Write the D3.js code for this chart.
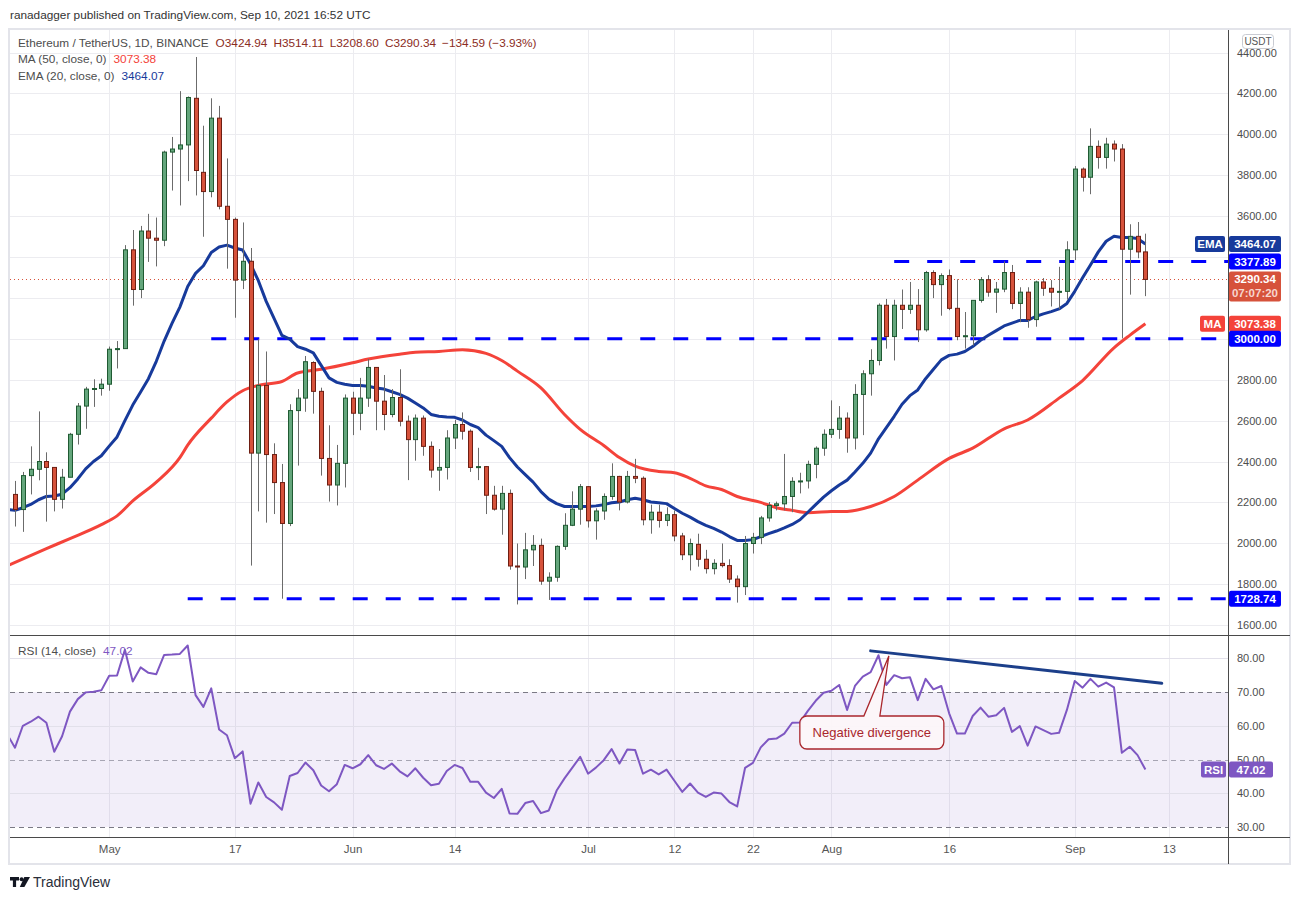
<!DOCTYPE html>
<html>
<head>
<meta charset="utf-8">
<script src="https://cdn.jsdelivr.net/npm/d3@7/dist/d3.min.js"></script>
<style>
html,body{margin:0;padding:0;background:#fff;}
svg text{font-family:"Liberation Sans",Arial,sans-serif;}
</style>
</head>
<body>
<svg id="chart" width="1298" height="900"></svg>
<script>
// ================= DATA =================
const startDate = "2021-04-18";
const opens = [2240,
2239,2165,2331,2362,2400,2371,2215,2323,2533,2671,
2754,2757,2778,2949,2952,3435,3241,3527,3492,3482,
3913,3928,3948,4176,3814,3720,4079,3648,3584,3287,
3379,2441,2772,2434,2297,2097,2649,2710,2884,2743,
2415,2285,2391,2710,2636,2710,2860,2695,2630,2713,
2597,2507,2612,2474,2358,2371,2515,2581,2548,2371,
2375,2235,2167,2244,1889,1884,1968,1990,1815,1834,
1985,2088,2167,2277,2110,2158,2229,2327,2202,2327,
2318,2115,2152,2112,2140,2036,1944,1995,1922,1876,
1902,1891,1825,1788,1999,2029,2124,2185,2193,2229,
2303,2305,2386,2465,2533,2557,2612,2515,2728,2829,
2894,3164,3011,3164,3144,3164,3044,3324,3265,3309,
3149,3011,3015,3188,3289,3228,3243,3324,3173,3228,
3094,3278,3247,3228,3232,3435,3830,3790,3941,3887,
3952,3928,3438,3501,3424.94];
const highs = [2250,
2305,2349,2474,2645,2445,2371,2364,2540,2686,2765,
2802,2805,2962,2989,3458,3532,3552,3611,3593,3920,
3987,4211,4185,4378,4042,4176,4139,3882,3593,3569,
3444,2998,2938,2489,2388,2680,2754,2916,2890,2761,
2577,2481,2728,2741,2809,2901,2862,2823,2754,2851,
2625,2630,2625,2498,2461,2553,2603,2640,2557,2467,
2378,2281,2281,2263,1999,2051,2040,2023,1858,1990,
2147,2254,2290,2280,2171,2244,2391,2330,2354,2413,
2327,2189,2189,2176,2161,2051,2023,2047,1968,1922,
1999,1922,1843,2036,2051,2134,2202,2204,2437,2323,
2345,2404,2474,2557,2699,2671,2640,2778,2846,2949,
3173,3195,3191,3241,3278,3243,3332,3335,3320,3339,
3291,3131,3188,3302,3311,3278,3379,3361,3252,3252,
3284,3297,3287,3352,3477,3845,3838,4029,3970,3983,
3970,3952,3560,3571,3514.11];
const lows = [1960,
2082,2056,2239,2308,2106,2156,2170,2323,2483,2560,
2667,2722,2746,2855,2952,3162,3199,3376,3354,3453,
3725,3652,3771,3701,3499,3692,3633,3343,3103,3243,
1891,2156,2101,2143,1729,2084,2380,2643,2634,2331,
2204,2185,2273,2529,2553,2667,2553,2553,2616,2572,
2309,2404,2428,2321,2257,2312,2461,2507,2349,2309,
2143,2160,2042,1871,1701,1825,1889,1797,1723,1812,
1968,2084,2091,2077,2018,2115,2213,2161,2195,2294,
2088,2047,2077,2084,2010,1918,1867,1886,1852,1848,
1882,1806,1710,1747,1950,1996,2106,2161,2161,2152,
2244,2268,2318,2428,2515,2511,2443,2459,2529,2722,
2870,2952,2894,3048,3122,2984,3035,3199,3113,3140,
2993,2952,2967,3177,3206,3127,3228,3145,3081,3054,
3059,3210,3158,3145,3192,3385,3720,3707,3832,3832,
3867,3002,3216,3394,3208.60];
const closes = [2239,
2165,2331,2362,2400,2371,2215,2323,2533,2671,2754,
2757,2778,2949,2952,3435,3241,3527,3492,3482,3913,
3928,3948,4180,3823,3720,4079,3648,3584,3287,3379,
2441,2772,2434,2297,2097,2649,2710,2888,2743,2415,
2285,2391,2710,2636,2710,2860,2695,2630,2713,2597,
2507,2612,2474,2358,2371,2515,2581,2548,2371,2375,
2235,2167,2244,1889,1884,1968,1990,1815,1834,1985,
2088,2167,2277,2110,2158,2229,2327,2202,2327,2318,
2115,2152,2112,2140,2036,1944,1999,1922,1876,1902,
1891,1825,1788,1999,2029,2124,2185,2193,2229,2303,
2305,2386,2465,2533,2557,2612,2515,2728,2829,2894,
3164,3011,3164,3144,3164,3044,3324,3265,3309,3149,
3011,3015,3188,3289,3228,3243,3324,3173,3228,3094,
3278,3247,3228,3232,3435,3830,3790,3941,3887,3952,
3928,3438,3501,3425,3290.34];
// EMA(20) read per candle
const ema20 = [2165,
2161,2174,2190,2213,2229,2231,2240,2272,2315,2364,
2400,2428,2475,2520,2600,2676,2740,2805,2890,2989,
3075,3155,3256,3320,3357,3422,3449,3458,3444,3434,
3366,3284,3183,3100,3017,2998,2962,2949,2931,2870,
2809,2787,2778,2772,2772,2768,2759,2754,2741,2728,
2710,2686,2662,2630,2621,2618,2616,2603,2581,2566,
2529,2502,2474,2419,2373,2336,2299,2253,2216,2194,
2180,2180,2180,2180,2183,2189,2198,2202,2213,2220,
2213,2202,2198,2194,2170,2147,2128,2106,2088,2073,
2055,2033,2014,2014,2018,2033,2047,2060,2075,2092,
2115,2152,2189,2226,2257,2285,2309,2349,2391,2441,
2511,2566,2621,2680,2722,2750,2805,2851,2897,2919,
2925,2938,2962,2993,3017,3040,3063,3077,3090,3090,
3109,3122,3133,3146,3173,3232,3298,3361,3425,3477,
3501,3495,3495,3490,3464.07];
// MA(50) read at sample dates
const maDates = ["2021-04-18","2021-04-23","2021-04-26","2021-04-30","2021-05-02","2021-05-04","2021-05-07","2021-05-10","2021-05-11","2021-05-14","2021-05-16","2021-05-18","2021-05-20","2021-05-23","2021-05-25","2021-05-28","2021-06-01","2021-06-03","2021-06-07","2021-06-09","2021-06-12","2021-06-15","2021-06-18","2021-06-20","2021-06-22","2021-06-25","2021-06-28","2021-06-30","2021-07-03","2021-07-05","2021-07-07","2021-07-10","2021-07-12","2021-07-14","2021-07-16","2021-07-18","2021-07-20","2021-07-23","2021-07-25","2021-07-27","2021-07-29","2021-08-01","2021-08-03","2021-08-06","2021-08-09","2021-08-12","2021-08-16","2021-08-19","2021-08-23","2021-08-26","2021-08-30","2021-09-02","2021-09-06","2021-09-08","2021-09-10"];
const maValues = [1890,1974,2023,2091,2134,2207,2299,2419,2480,2612,2691,2746,2772,2791,2833,2851,2883,2901,2925,2934,2938,2947,2929,2894,2842,2760,2630,2557,2478,2419,2377,2351,2345,2318,2281,2263,2229,2200,2174,2161,2150,2155,2156,2180,2229,2309,2415,2465,2560,2603,2710,2796,2956,3017,3073.38];
// RSI(14) read per candle
const rsi14 = [57.5,
53.5,60.0,61.2,62.7,60.9,52.3,56.9,64.2,67.9,69.9,
70.1,70.5,74.8,74.9,82.5,73.1,77.3,75.7,75.3,81.0,
81.1,81.3,83.8,69.1,65.6,71.1,58.9,57.2,50.4,52.4,
36.9,43.2,38.9,37.3,35.1,45.1,46.0,49.1,46.8,42.3,
40.6,42.7,48.4,47.4,48.6,51.3,48.3,47.2,48.8,46.5,
45.0,47.4,44.6,42.4,42.8,46.6,48.4,47.5,43.4,43.4,
40.2,38.6,41.3,34.0,33.9,37.1,37.7,34.1,34.9,40.8,
44.4,47.6,50.8,45.8,47.6,49.8,53.1,48.8,53.0,52.8,
45.8,47.0,45.6,47.0,43.7,40.4,42.9,40.2,38.9,40.2,
39.9,37.4,36.1,47.5,49.0,53.6,56.0,56.2,57.7,60.9,
61.0,64.4,67.4,69.8,70.4,72.1,64.7,71.8,74.6,75.9,
80.9,72.1,75.0,74.1,74.4,67.6,73.9,70.8,71.8,63.7,
57.7,57.7,62.9,65.4,62.7,63.1,65.3,58.2,59.9,54.1,
59.8,58.7,57.6,57.9,64.7,73.3,71.3,73.9,71.6,72.8,
71.4,52.0,53.8,51.3,47.02];
const levelValues = [3377.89, 3000.00, 1728.74];
const levelStarts = ["2021-08-09", "2021-05-14", "2021-05-11"];
const trendDates = ["2021-08-06", "2021-09-12T02:00"];
const trendValues = [82.2, 72.6];
const noteDate = "2021-08-08", noteValue = 80.7, noteText = "Negative divergence";
const priceTicks = [1600,1800,2000,2200,2400,2600,2800,3000,3200,3400,3600,3800,4000,4200,4400];
const rsiTicks = [30,40,50,60,70,80];
const rsiGrid = [40,60,80];
const rsiDashed = [30,50,70];
const dateTicks = ["2021-05-01","2021-05-17","2021-06-01","2021-06-14","2021-07-01","2021-07-12","2021-07-22","2021-08-01","2021-08-16","2021-09-01","2021-09-13"];
const dateTickLabels = ["May","17","Jun","14","Jul","12","22","Aug","16","Sep","13"];
const lastInfo = {open:3424.94, high:3514.11, low:3208.60, close:3290.34, change:-134.59, pct:-3.93, ma:3073.38, ema:3464.07, rsi:47.02, countdown:"07:07:20"};

// ================= LAYOUT =================
const W = 1298, H = 900;
const L = 10, R = 1228, PT = 30, PB = 635, RB = 837, FB = 864, FR = 1290;
const FS = 11.8;
const parse = d => new Date(d.length > 10 ? d + ":00Z" : d + "T00:00:00Z");
const dates = closes.map((_, i) => d3.utcDay.offset(parse(startDate), i));
const candles = dates.map((d, i) => ({d, o: opens[i], h: highs[i], l: lows[i], c: closes[i]}));

const x = d3.scaleUtc().domain([parse("2021-04-19"), parse("2021-09-10")]).range([15, 1145.4]);
const y = d3.scaleLinear().domain([1600, 4200]).range([625.1, 93.4]);
const yr = d3.scaleLinear().domain([30, 80]).range([827, 658.3]);

const UP = "#64a67c", UPB = "#1f5a32", DN = "#d6523b", DNB = "#6e1e12";
const EMAC = "#173a9b", MAC = "#f4433a", LVL = "#0000ff", RSIC = "#7e57c2";

const svg = d3.select("#chart");
svg.append("rect").attr("width", W).attr("height", H).attr("fill", "#fff");
const defs = svg.append("defs");
defs.append("clipPath").attr("id", "cp").append("rect").attr("x", L).attr("y", PT).attr("width", R - L).attr("height", PB - PT);
defs.append("clipPath").attr("id", "cr").append("rect").attr("x", L).attr("y", PB).attr("width", R - L).attr("height", RB - PB);

// ----- grids -----
const grid = svg.append("g");
grid.selectAll(".hg").data(priceTicks).join("line")
  .attr("x1", L).attr("x2", R).attr("y1", d => Math.round(y(d)) + 0.5).attr("y2", d => Math.round(y(d)) + 0.5)
  .attr("stroke", "#ececf0");
grid.selectAll(".vg").data(dateTicks).join("line")
  .attr("x1", d => Math.round(x(parse(d))) + 0.5).attr("x2", d => Math.round(x(parse(d))) + 0.5)
  .attr("y1", PT).attr("y2", RB).attr("stroke", "#ececf0");

// RSI band & guides
const rp = svg.append("g").attr("clip-path", "url(#cr)");
rp.append("rect").attr("x", L).attr("width", R - L).attr("y", yr(70)).attr("height", yr(30) - yr(70))
  .attr("fill", "rgba(126,87,194,0.1)");
rp.selectAll(".rg").data(rsiGrid).join("line")
  .attr("x1", L).attr("x2", R).attr("y1", d => Math.round(yr(d)) + 0.5).attr("y2", d => Math.round(yr(d)) + 0.5)
  .attr("stroke", "#e2e0ea");
rp.selectAll(".rd").data(rsiDashed).join("line")
  .attr("x1", L).attr("x2", R).attr("y1", d => Math.round(yr(d)) + 0.5).attr("y2", d => Math.round(yr(d)) + 0.5)
  .attr("stroke", d => d === 50 ? "#a7a5b3" : "#7b7a85").attr("stroke-dasharray", "5,4");

// ----- price pane -----
const pp = svg.append("g").attr("clip-path", "url(#cp)");
pp.append("line").attr("x1", L).attr("x2", R)
  .attr("y1", Math.round(y(lastInfo.close)) + 0.5).attr("y2", Math.round(y(lastInfo.close)) + 0.5)
  .attr("stroke", DN).attr("stroke-dasharray", "1,3");
pp.selectAll(".lv").data(levelValues).join("line")
  .attr("x1", (d, i) => x(parse(levelStarts[i]))).attr("x2", R)
  .attr("y1", d => y(d)).attr("y2", d => y(d))
  .attr("stroke", LVL).attr("stroke-width", 3).attr("stroke-dasharray", "15,18");
pp.append("path").datum(maValues)
  .attr("d", d3.line().x((d, i) => x(parse(maDates[i]))).y(d => y(d)).curve(d3.curveMonotoneX))
  .attr("fill", "none").attr("stroke", MAC).attr("stroke-width", 3).attr("stroke-linejoin", "round");
pp.append("path").datum(ema20)
  .attr("d", d3.line().x((d, i) => x(dates[i])).y(d => y(d)))
  .attr("fill", "none").attr("stroke", EMAC).attr("stroke-width", 3).attr("stroke-linejoin", "round");
const cg = pp.append("g");
cg.selectAll(".wk").data(candles).join("line")
  .attr("x1", d => Math.round(x(d.d)) + 0.5).attr("x2", d => Math.round(x(d.d)) + 0.5)
  .attr("y1", d => y(d.h)).attr("y2", d => y(d.l)).attr("stroke", "#6b6b6b").attr("stroke-width", 1);
cg.selectAll(".bd").data(candles).join("rect")
  .attr("x", d => Math.round(x(d.d)) - 1.5).attr("width", 4)
  .attr("y", d => y(Math.max(d.o, d.c)))
  .attr("height", d => Math.max(1, Math.abs(y(d.o) - y(d.c))))
  .attr("fill", d => d.c >= d.o ? UP : DN)
  .attr("stroke", d => d.c >= d.o ? UPB : DNB).attr("stroke-width", 1);

// ----- RSI pane -----
rp.append("path").datum(rsi14)
  .attr("d", d3.line().x((d, i) => x(dates[i])).y(d => yr(d)))
  .attr("fill", "none").attr("stroke", RSIC).attr("stroke-width", 2).attr("stroke-linejoin", "round");
rp.append("line")
  .attr("x1", x(parse(trendDates[0]))).attr("y1", yr(trendValues[0]))
  .attr("x2", x(parse(trendDates[1]))).attr("y2", yr(trendValues[1]))
  .attr("stroke", "#1c3f8a").attr("stroke-width", 3).attr("stroke-linecap", "round");
{
  const tx = x(parse(noteDate)) + 2.5, ty = yr(noteValue);
  const bx = tx - 89, by = 716, bw = 144, bh = 33, r = 7;
  const p = `M${bx + r},${by} H${bx + 64} L${tx},${ty} L${bx + 80},${by} H${bx + bw - r} A${r},${r} 0 0 1 ${bx + bw},${by + r} V${by + bh - r} A${r},${r} 0 0 1 ${bx + bw - r},${by + bh} H${bx + r} A${r},${r} 0 0 1 ${bx},${by + bh - r} V${by + r} A${r},${r} 0 0 1 ${bx + r},${by} Z`;
  svg.append("path").attr("d", p).attr("fill", "rgba(253,246,248,0.92)").attr("stroke", "#a9262c").attr("stroke-width", 1.3);
  svg.append("text").attr("x", bx + bw / 2).attr("y", by + bh / 2).attr("dy", "0.35em")
    .attr("text-anchor", "middle").attr("font-size", 13).attr("fill", "#a9262c").text(noteText);
}

// ----- frame & separators -----
svg.append("rect").attr("x", 9).attr("y", 29).attr("width", FR - 9).attr("height", FB - 29)
  .attr("fill", "none").attr("stroke", "#e3e4ea").attr("stroke-width", 2);
svg.append("line").attr("x1", L).attr("x2", FR).attr("y1", PB + 0.5).attr("y2", PB + 0.5).attr("stroke", "#4a4a4a");
svg.append("line").attr("x1", L).attr("x2", FR).attr("y1", RB + 0.5).attr("y2", RB + 0.5).attr("stroke", "#4a4a4a");
svg.append("line").attr("x1", R + 0.5).attr("x2", R + 0.5).attr("y1", PT).attr("y2", FB).attr("stroke", "#4a4a4a");

// ----- value tags (price axis) -----
const f2 = d3.format(".2f");
const tagSpans = [
  [y(lastInfo.ema) - 8, y(lastInfo.ema) + 8],
  [y(levelValues[0]) - 8, y(levelValues[0]) + 8],
  [y(lastInfo.close) - 8, y(lastInfo.close) + 22],
  [y(lastInfo.ma) - 8, y(lastInfo.ma) + 8],
  [y(levelValues[1]) - 8, y(levelValues[1]) + 8],
  [y(levelValues[2]) - 8, y(levelValues[2]) + 8]];
const visiblePriceTicks = priceTicks.filter(v => !tagSpans.some(s => y(v) > s[0] - 6 && y(v) < s[1] + 6));

// ----- axes -----
const pa = svg.append("g").attr("transform", `translate(${R},0)`)
  .call(d3.axisRight(y).tickValues(visiblePriceTicks).tickFormat(f2).tickSize(0).tickPadding(9));
pa.select(".domain").remove();
pa.selectAll("text").attr("font-size", 11).attr("fill", "#4d4d4d").attr("font-family", "Liberation Sans, Arial, sans-serif");
const ra = svg.append("g").attr("transform", `translate(${R},0)`)
  .call(d3.axisRight(yr).tickValues(rsiTicks).tickFormat(f2).tickSize(0).tickPadding(9));
ra.select(".domain").remove();
ra.selectAll("text").attr("font-size", 11).attr("fill", "#4d4d4d").attr("font-family", "Liberation Sans, Arial, sans-serif");
const xa = svg.append("g").attr("transform", `translate(0,${RB})`)
  .call(d3.axisBottom(x).tickValues(dateTicks.map(parse)).tickFormat((d, i) => dateTickLabels[i]).tickSize(0).tickPadding(8));
xa.select(".domain").remove();
xa.selectAll("text").attr("font-size", 11.5).attr("fill", "#555").attr("font-family", "Liberation Sans, Arial, sans-serif");

svg.append("rect").attr("x", 1242.5).attr("y", 34.5).attr("width", 31).attr("height", 14).attr("rx", 3)
  .attr("fill", "#fff").attr("stroke", "#c9cbd2");
svg.append("text").attr("x", 1258).attr("y", 41.5).attr("dy", "0.35em").attr("text-anchor", "middle")
  .attr("font-size", 10).attr("fill", "#555").text("USDT");

function tag(yc, txt, bg, x0, w, h = 16, col = "#fff") {
  svg.append("rect").attr("x", x0).attr("y", yc - h / 2).attr("width", w).attr("height", h).attr("rx", 2).attr("fill", bg);
  svg.append("text").attr("x", x0 + w / 2).attr("y", yc).attr("dy", "0.35em").attr("text-anchor", "middle")
    .attr("font-size", 11.5).attr("font-weight", "bold").attr("fill", col).text(txt);
}
tag(y(lastInfo.ema), "EMA", EMAC, 1195, 30);
tag(y(lastInfo.ema), f2(lastInfo.ema), EMAC, 1229, 52);
tag(y(levelValues[0]), f2(levelValues[0]), LVL, 1229, 52);
{
  const yc = y(lastInfo.close);
  svg.append("rect").attr("x", 1229).attr("y", yc - 8).attr("width", 52).attr("height", 30).attr("rx", 2).attr("fill", DN);
  svg.append("text").attr("x", 1255).attr("y", yc).attr("dy", "0.35em").attr("text-anchor", "middle")
    .attr("font-size", 11.5).attr("font-weight", "bold").attr("fill", "#fff").text(f2(lastInfo.close));
  svg.append("text").attr("x", 1255).attr("y", yc + 14).attr("dy", "0.35em").attr("text-anchor", "middle")
    .attr("font-size", 11.5).attr("font-weight", "bold").attr("fill", "#f7d6cf").text(lastInfo.countdown);
}
tag(y(lastInfo.ma), "MA", MAC, 1200, 25);
tag(y(lastInfo.ma), f2(lastInfo.ma), MAC, 1229, 52);
tag(y(levelValues[1]), f2(levelValues[1]), LVL, 1229, 52);
tag(y(levelValues[2]), f2(levelValues[2]), LVL, 1229, 52);
tag(yr(lastInfo.rsi), "RSI", RSIC, 1201, 25);
tag(yr(lastInfo.rsi), f2(lastInfo.rsi), RSIC, 1229, 44);

// ----- legends -----
function legendRow(yb, label, labelCol, parts) {
  const t = svg.append("text").attr("x", 18).attr("y", yb).attr("font-size", FS).attr("fill", labelCol).text(label);
  let xx = 18 + t.node().getComputedTextLength() + 7;
  parts.forEach(p => {
    const s = svg.append("text").attr("x", xx).attr("y", yb).attr("font-size", FS).attr("fill", p.c).text(p.t);
    xx += s.node().getComputedTextLength() + 6;
  });
}
svg.append("text").attr("x", 10).attr("y", 19).attr("font-size", FS).attr("fill", "#333").text("ranadagger published on TradingView.com, Sep 10, 2021 16:52 UTC");
const OC = "#8b2c23";
legendRow(46.5, "Ethereum / TetherUS, 1D, BINANCE", "#4d4d4d", [
  {t: "O" + f2(lastInfo.open), c: OC}, {t: "H" + f2(lastInfo.high), c: OC},
  {t: "L" + f2(lastInfo.low), c: OC}, {t: "C" + f2(lastInfo.close), c: OC},
  {t: "\u2212" + f2(-lastInfo.change) + " (\u2212" + f2(-lastInfo.pct) + "%)", c: OC}]);
legendRow(63, "MA (50, close, 0)", "#4d4d4d", [{t: f2(lastInfo.ma), c: MAC}]);
legendRow(79.5, "EMA (20, close, 0)", "#4d4d4d", [{t: f2(lastInfo.ema), c: EMAC}]);
legendRow(655, "RSI (14, close)", "#4d4d4d", [{t: f2(lastInfo.rsi), c: RSIC}]);

// ----- TradingView logo -----
const lg = svg.append("g").attr("fill", "#131722");
lg.append("path").attr("d", "M10,877 h9 v3.4 h-2.9 v6.6 h-3.2 v-6.6 h-2.9 z");
lg.append("circle").attr("cx", 21.6).attr("cy", 879.2).attr("r", 2);
lg.append("path").attr("d", "M24.3,877 h5.7 l-5.6,10 h-4.6 z");
svg.append("text").attr("x", 33).attr("y", 887).attr("font-size", 14).attr("fill", "#2a2e39").text("TradingView");
</script>
</body>
</html>
